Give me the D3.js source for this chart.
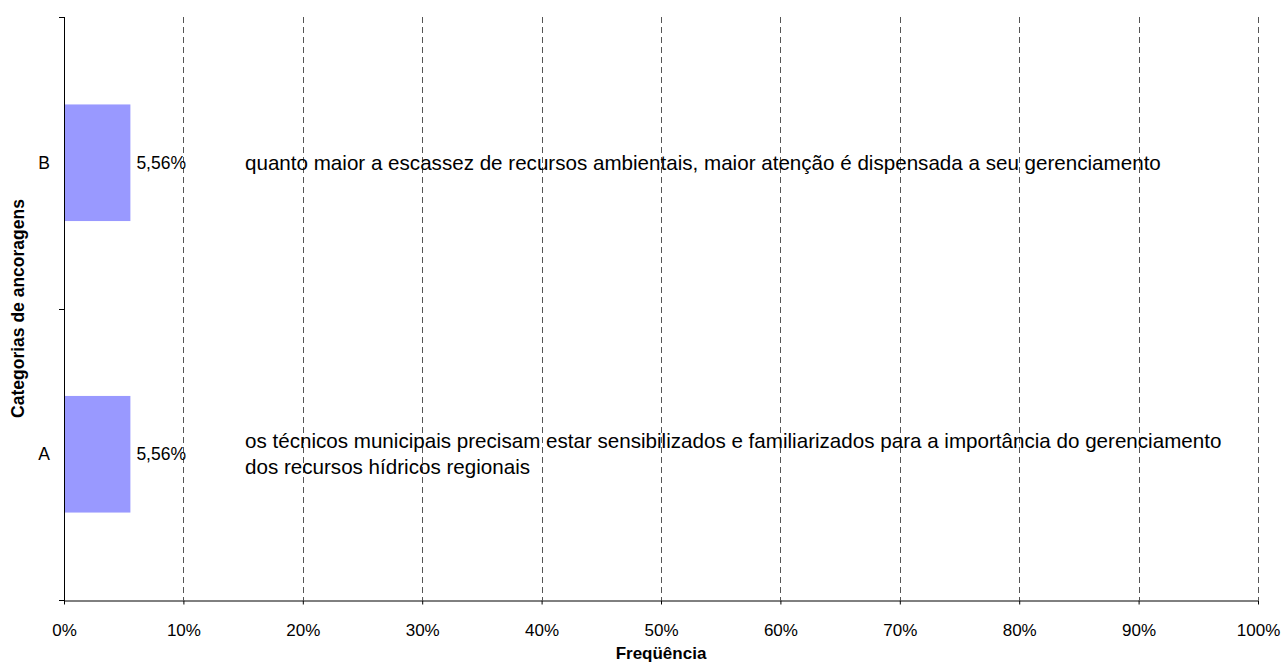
<!DOCTYPE html>
<html>
<head>
<meta charset="utf-8">
<script src="https://cdn.jsdelivr.net/npm/d3@7"></script>
<style>
  html, body { margin: 0; padding: 0; background: #fff; }
  svg text { font-family: "Liberation Sans", Arial, sans-serif; fill: #000; }
</style>
</head>
<body>
<svg id="chart" width="1282" height="664"></svg>
<script>
// Anchoring categories and their relative frequency
const categories = ["A", "B"];
const frequencies = [0.0556, 0.0556];
const valueLabels = ["5,56%", "5,56%"];
const descriptions = [
  ["os técnicos municipais precisam estar sensibilizados e familiarizados para a importância do gerenciamento",
   "dos recursos hídricos regionais"],
  ["quanto maior a escassez de recursos ambientais, maior atenção é dispensada a seu gerenciamento"]
];
const xTicks = [0, 0.1, 0.2, 0.3, 0.4, 0.5, 0.6, 0.7, 0.8, 0.9, 1.0];
const xTitle = "Freqüência";
const yTitle = "Categorias de ancoragens";

const svg = d3.select("#chart");
const plotLeft = 64, plotRight = 1258, plotTop = 17, plotBottom = 600;

const x = d3.scaleLinear().domain([0, 1]).range([plotLeft, plotRight]);
// categories stacked bottom-to-top: A at the bottom, B on top
const y = d3.scaleBand().domain(categories).range([plotBottom, plotTop]).paddingInner(0.6).paddingOuter(0.3);
const yBand = d3.scaleBand().domain(categories).range([plotBottom, plotTop]).padding(0);

// dashed vertical gridlines
svg.append("g")
  .selectAll("line")
  .data(xTicks.slice(1))
  .join("line")
  .attr("x1", d => Math.round(x(d)) + 0.5)
  .attr("x2", d => Math.round(x(d)) + 0.5)
  .attr("y1", plotTop)
  .attr("y2", plotBottom)
  .attr("stroke", "#555")
  .attr("stroke-width", 1)
  .attr("stroke-dasharray", "6,4");

// bars
svg.append("g")
  .selectAll("rect")
  .data(categories)
  .join("rect")
  .attr("x", x(0))
  .attr("y", (d) => y(d))
  .attr("width", (d, i) => x(frequencies[i]) - x(0))
  .attr("height", y.bandwidth())
  .attr("fill", "#9999ff");

// x axis
const xAxis = d3.axisBottom(x)
  .tickValues(xTicks)
  .tickFormat(d => Math.round(d * 100) + "%")
  .tickSize(4)
  .tickSizeOuter(0);
const gx = svg.append("g")
  .attr("transform", `translate(0,${plotBottom + 0.5})`)
  .call(xAxis);
gx.select(".domain").attr("stroke", "#000");
gx.selectAll(".tick line").attr("stroke", "#000");
gx.selectAll(".tick text")
  .attr("dy", 0)
  .attr("y", 35)
  .style("font-size", "17px")
  .style("font-family", "'Liberation Sans', Arial, sans-serif");

// y axis: tick marks at band boundaries, labels at band centers
svg.append("line")
  .attr("x1", plotLeft + 0.5).attr("x2", plotLeft + 0.5)
  .attr("y1", plotTop).attr("y2", plotBottom + 1)
  .attr("stroke", "#000");
const boundaries = [plotBottom, yBand("B") + yBand.bandwidth(), plotTop];
svg.append("g")
  .selectAll("line")
  .data(boundaries)
  .join("line")
  .attr("x1", plotLeft - 5).attr("x2", plotLeft)
  .attr("y1", d => Math.round(d) + 0.5)
  .attr("y2", d => Math.round(d) + 0.5)
  .attr("stroke", "#000");

svg.append("g")
  .selectAll("text")
  .data(categories)
  .join("text")
  .attr("x", 50)
  .attr("y", d => y(d) + y.bandwidth() / 2)
  .attr("dy", "0.35em")
  .attr("text-anchor", "end")
  .style("font-size", "17.5px")
  .text(d => d);

// value labels
svg.append("g")
  .selectAll("text")
  .data(categories)
  .join("text")
  .attr("x", (d, i) => x(frequencies[i]) + 6)
  .attr("y", d => y(d) + y.bandwidth() / 2)
  .attr("dy", "0.35em")
  .style("font-size", "17.5px")
  .text((d, i) => valueLabels[i]);

// category descriptions
categories.forEach((c, i) => {
  const lines = descriptions[i];
  const cy = y(c) + y.bandwidth() / 2;
  const lh = 26;
  const t = svg.append("text")
    .attr("x", 245)
    .style("font-size", "20.6px");
  lines.forEach((ln, j) => {
    t.append("tspan")
      .attr("x", 245)
      .attr("y", cy + (j - (lines.length - 1) / 2) * lh)
      .attr("dy", "0.35em")
      .text(ln);
  });
});

// axis titles
svg.append("text")
  .attr("x", (plotLeft + plotRight) / 2)
  .attr("y", 659)
  .attr("text-anchor", "middle")
  .style("font-size", "17px")
  .style("font-weight", "bold")
  .text(xTitle);

svg.append("text")
  .attr("transform", `translate(24,${(plotTop + plotBottom) / 2}) rotate(-90)`)
  .attr("text-anchor", "middle")
  .style("font-size", "17.5px")
  .style("font-weight", "bold")
  .text(yTitle);
</script>
</body>
</html>
